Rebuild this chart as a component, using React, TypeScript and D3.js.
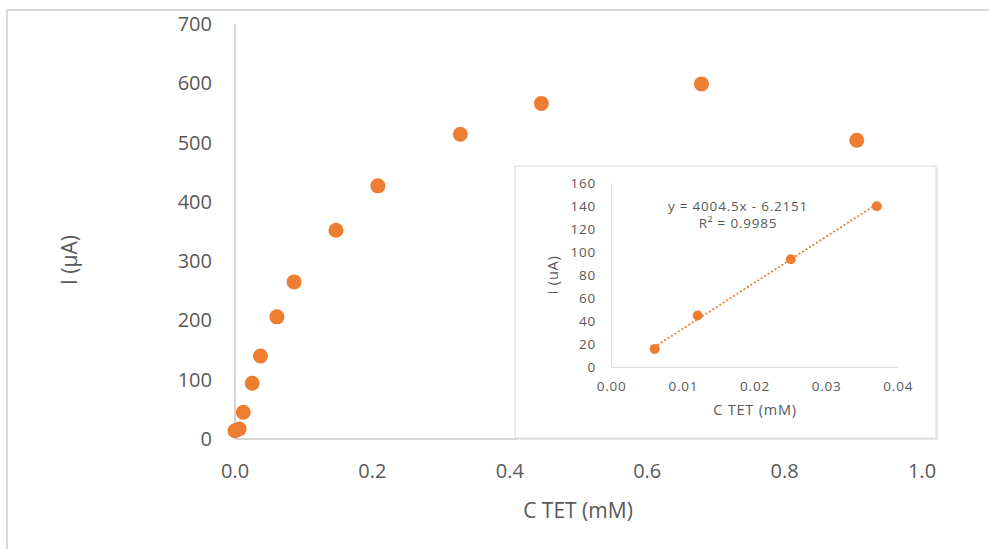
import React from 'react';
import * as d3 from 'd3';

// main calibration curve
const concMain = [0.0, 0.006, 0.012, 0.025, 0.037, 0.061, 0.086, 0.147, 0.208, 0.328, 0.446, 0.679, 0.905];
const currentMain = [14, 17, 45, 94, 140, 206, 265, 352, 427, 514, 566, 599, 504];
const mainXTicks = [0, 0.2, 0.4, 0.6, 0.8, 1.0];
const mainYTicks = [0, 100, 200, 300, 400, 500, 600, 700];

// inset (linear range)
const concInset = [0.006, 0.012, 0.025, 0.037];
const currentInset = [16, 45, 94, 140];
const insetXTicks = [0, 0.01, 0.02, 0.03, 0.04];
const insetYTicks = [0, 20, 40, 60, 80, 100, 120, 140, 160];
const slope = 4004.5;
const intercept = -6.2151;
const equationText = 'y = 4004.5x - 6.2151';
const r2Text = 'R² = 0.9985';

const ORANGE = '#ED7D31';
const TEXT = '#595959';
const FONT = '"Open Sans", "Noto Sans", sans-serif';

export default function App() {
  const x = d3.scaleLinear().domain([0, 1]).range([235, 922]);
  const y = d3.scaleLinear().domain([0, 700]).range([439, 24]);

  const ix = d3.scaleLinear().domain([0, 0.04]).range([611.7, 898.3]);
  const iy = d3.scaleLinear().domain([0, 160]).range([367.3, 183.3]);

  const fitX = d3.extent(concInset) as [number, number];
  const fitLine = d3.line<number>()
    .x(d => ix(d))
    .y(d => iy(slope * d + intercept));

  // inset text is a little stretched horizontally in the original
  const insetText = { fontSize: 13.5, letterSpacing: 0.8, fill: TEXT };

  return (
    <svg width={989} height={549} style={{ position: 'absolute', left: 0, top: 0, background: '#fff' }}
      fontFamily={FONT}>
      {/* outer frame */}
      <line x1={7} y1={10} x2={989} y2={10} stroke="#d9d9d9" strokeWidth={2} />
      <line x1={7} y1={10} x2={7} y2={549} stroke="#d9d9d9" strokeWidth={2} />

      {/* main axes */}
      <line x1={x(0)} y1={y(0)} x2={x(1)} y2={y(0)} stroke="#c9c9c9" strokeWidth={1.5} />
      <line x1={x(0)} y1={y(0)} x2={x(0)} y2={y(700)} stroke="#c9c9c9" strokeWidth={1.5} />
      {mainYTicks.map(t => (
        <text key={t} x={212} y={y(t)} dy="0.35em" textAnchor="end" fontSize={20} fill={TEXT}>
          {d3.format('d')(t)}
        </text>
      ))}
      {mainXTicks.map(t => (
        <text key={t} x={x(t)} y={471} dy="0.35em" textAnchor="middle" fontSize={20} fill={TEXT}>
          {d3.format('.1f')(t)}
        </text>
      ))}
      <text x={578} y={511} dy="0.35em" textAnchor="middle" fontSize={21} fill={TEXT}>C TET (mM)</text>
      <text transform="translate(70,260) rotate(-90)" dy="0.35em" textAnchor="middle" fontSize={21} fill={TEXT}>
        I (µA)
      </text>

      {concMain.map((c, i) => (
        <circle key={i} cx={x(c)} cy={y(currentMain[i])} r={7.5} fill={ORANGE} />
      ))}

      {/* inset */}
      <rect x={517} y={168} width={421} height={272} fill="#e6e6e6" />
      <rect x={515} y={166} width={421} height={272} fill="#fff" stroke="#d9d9d9" strokeWidth={1} />
      <line x1={ix(0)} y1={iy(0)} x2={ix(0.04)} y2={iy(0)} stroke="#d9d9d9" strokeWidth={1} />
      <line x1={ix(0)} y1={iy(0)} x2={ix(0)} y2={iy(160)} stroke="#d9d9d9" strokeWidth={1} />
      {insetYTicks.map(t => (
        <text key={t} x={596} y={iy(t)} dy="0.35em" textAnchor="end" {...insetText}>
          {d3.format('d')(t)}
        </text>
      ))}
      {insetXTicks.map(t => (
        <text key={t} x={ix(t)} y={386.7} dy="0.35em" textAnchor="middle" {...insetText}>
          {d3.format('.2f')(t)}
        </text>
      ))}
      <text x={755} y={410} dy="0.35em" textAnchor="middle" {...insetText} fontSize={14.5}>C TET (mM)</text>
      <text transform="translate(553,275) rotate(-90)" dy="0.35em" textAnchor="middle" {...insetText} fontSize={14.5}>
        I (uA)
      </text>

      <path d={fitLine(fitX) || ''} fill="none" stroke={ORANGE} strokeWidth={2}
        strokeDasharray="0.1 4" strokeLinecap="round" />
      {concInset.map((c, i) => (
        <circle key={i} cx={ix(c)} cy={iy(currentInset[i])} r={5} fill={ORANGE} />
      ))}
      <text x={738} y={206} dy="0.35em" textAnchor="middle" {...insetText}>{equationText}</text>
      <text x={738} y={223} dy="0.35em" textAnchor="middle" {...insetText}>{r2Text}</text>
    </svg>
  );
}
